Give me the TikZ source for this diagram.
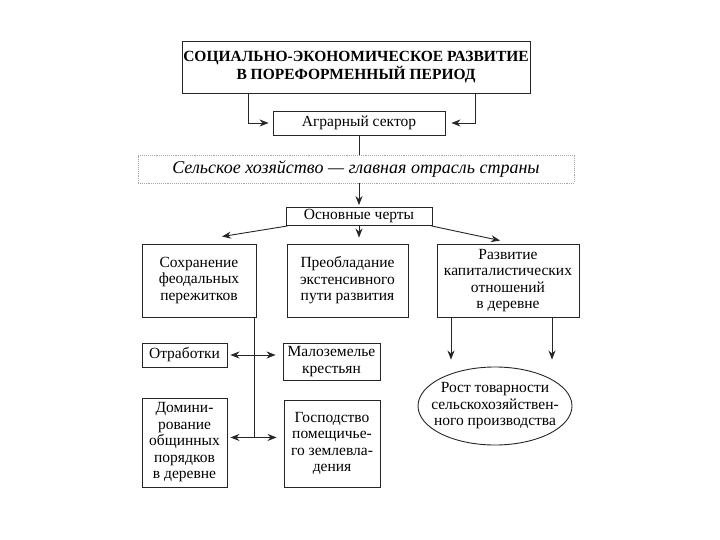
\documentclass[tikz,border=0pt]{standalone}
\usepackage{fontspec}
\setmainfont{Liberation Serif}
\usetikzlibrary{arrows.meta,shapes.geometric}
\begin{document}
\begin{tikzpicture}[x=1pt,y=-1pt,
  box/.style={draw=black!85, line width=0.9pt, rectangle, inner sep=0pt, align=center, font=\fontsize{15.5pt}{16.5pt}\selectfont},
  ln/.style={draw=black!85, line width=0.9pt},
  arr/.style={ln, -{Stealth[length=9pt,width=7pt]}},
  darr/.style={ln, {Stealth[length=9pt,width=7pt]}-{Stealth[length=9pt,width=7pt]}},
  txt/.style={inner sep=0pt, align=center, font=\fontsize{15.5pt}{16.5pt}\selectfont}
]
\useasboundingbox[fill=white] (0,0) rectangle (720,540);

\node[box, minimum width=348pt, minimum height=52pt, font=\bfseries\fontsize{15.5pt}{14.5pt}\selectfont] (title) at (356,67) {СОЦИАЛЬНО-ЭКОНОМИЧЕСКОЕ РАЗВИТИЕ\\В ПОРЕФОРМЕННЫЙ ПЕРИОД};
\node[box, minimum width=172pt, minimum height=24pt] (agr) at (359,123) {Аграрный сектор};
\node[box, draw=gray!70, densely dotted, minimum width=436pt, minimum height=28pt, font=\itshape\fontsize{18pt}{20pt}\selectfont] (dot) at (356,169) {Сельское хозяйство — главная отрасль страны};
\node[box, minimum width=146pt, minimum height=18pt] (osn) at (359,216.5) {Основные черты};

\node[box, minimum width=114pt, minimum height=73pt] (b1) at (199,280.5) {Сохранение\\феодальных\\пережитков};
\node[box, minimum width=121pt, minimum height=73pt] (b2) at (347.5,280.5) {Преобладание\\экстенсивного\\пути развития};
\node[box, minimum width=142pt, minimum height=73pt] (b3) at (508,280.5) {Развитие\\капиталистических\\отношений\\в деревне};

\node[box, minimum width=85pt, minimum height=24pt] (otr) at (184.5,355) {Отработки};
\node[box, minimum width=97pt, minimum height=37pt] (mal) at (331.5,361.5) {Малоземелье\\крестьян};
\node[box, minimum width=85pt, minimum height=89pt] (dom) at (184.5,442.5) {Домини-\\рование\\общинных\\порядков\\в деревне};
\node[box, minimum width=96pt, minimum height=87pt] (gos) at (332,443.5) {Господство\\помещичье-\\го землевла-\\дения};

\node[draw=black!85, line width=0.9pt, ellipse, minimum width=154pt, minimum height=78pt, inner sep=0pt] (rost) at (495,406) {};
\node[txt] (rosttxt) at (rost.center) {Рост товарности\\сельскохозяйствен-\\ного производства};

% connectors
\coordinate (tL) at ([xshift=67pt]title.south west);
\coordinate (tR) at ([xshift=-55pt]title.south east);
\draw[arr, shorten >=4pt] (tL) |- (agr.west);
\draw[arr, shorten >=6pt] (tR) |- (agr.east);
\draw[ln] (agr.south) -- (agr.south |- dot.north);
\draw[arr, shorten >=2pt] (dot.south -| osn.north) -- (osn.north);

\draw[arr] ([xshift=2pt]osn.south west) -- ([xshift=23pt,yshift=7pt]b1.north);
\draw[arr, shorten >=6pt] (osn.south) -- (osn.south |- b2.north);
\draw[arr] ([xshift=-1pt]osn.south east) -- ([xshift=-8pt,yshift=3pt]b3.north);

\coordinate (lv) at ([xshift=-2pt]b1.south east);
\coordinate (jn) at ([yshift=-120pt]lv);
\draw[ln] (lv) -- (jn);
\draw[darr, shorten <=3pt, shorten >=7pt] (otr.east) -- (otr.east -| mal.west);
\draw[darr, shorten <=3pt, shorten >=7pt] (jn -| dom.east) -- (jn -| gos.west);

\coordinate (r1) at ([xshift=-57pt]b3.south);
\coordinate (r2) at ([xshift=44pt]b3.south);
\draw[arr, shorten >=7pt] (r1) -- (r1 |- rost.north);
\draw[arr, shorten >=7pt] (r2) -- (r2 |- rost.north);
\end{tikzpicture}
\end{document}
